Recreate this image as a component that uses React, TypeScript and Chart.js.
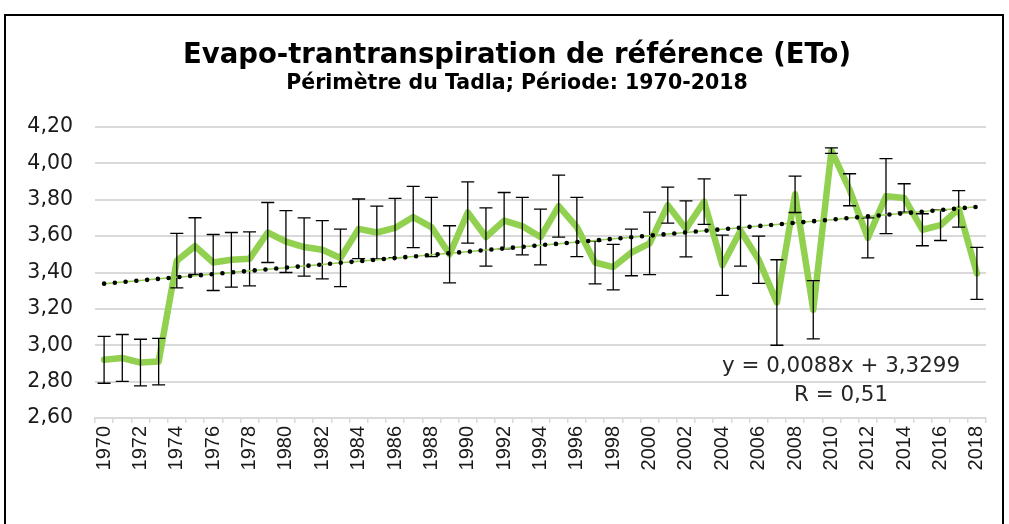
import React, { useEffect, useRef } from "react";
import { Chart, registerables } from "chart.js";

Chart.register(...registerables);

const years = [
  "1970", "1971", "1972", "1973", "1974", "1975", "1976", "1977", "1978", "1979",
  "1980", "1981", "1982", "1983", "1984", "1985", "1986", "1987", "1988", "1989",
  "1990", "1991", "1992", "1993", "1994", "1995", "1996", "1997", "1998", "1999",
  "2000", "2001", "2002", "2003", "2004", "2005", "2006", "2007", "2008", "2009",
  "2010", "2011", "2012", "2013", "2014", "2015", "2016", "2017", "2018",
];

const eto = [
  2.92, 2.93, 2.905, 2.91, 3.465, 3.545, 3.455, 3.47, 3.475, 3.62,
  3.57, 3.54, 3.525, 3.48, 3.64, 3.62, 3.645, 3.705, 3.65, 3.5,
  3.73, 3.595, 3.685, 3.655, 3.595, 3.765, 3.65, 3.455, 3.43, 3.51,
  3.56, 3.77, 3.64, 3.79, 3.44, 3.63, 3.47, 3.235, 3.83, 3.195,
  4.07, 3.855, 3.59, 3.82, 3.81, 3.635, 3.66, 3.75, 3.395,
];

const etoSd = [
  0.129, 0.129, 0.128, 0.128, 0.15, 0.156, 0.154, 0.15, 0.148, 0.165,
  0.17, 0.16, 0.16, 0.158, 0.164, 0.145, 0.163, 0.168, 0.163, 0.157,
  0.168, 0.16, 0.155, 0.158, 0.153, 0.17, 0.163, 0.117, 0.125, 0.128,
  0.172, 0.099, 0.154, 0.125, 0.166, 0.195, 0.13, 0.235, 0.1, 0.16,
  0.015, 0.088, 0.11, 0.206, 0.078, 0.088, 0.084, 0.1, 0.143,
];

const trendSlope = 0.0088;
const trendIntercept = 3.3299;
const trend = years.map((_, i) => trendIntercept + trendSlope * (i + 1));

const yMin = 2.6;
const yMax = 4.2;
const yStep = 0.2;

const titleText = "Evapo-trantranspiration de référence (ETo)";
const subtitleText = "Périmètre du Tadla; Période: 1970-2018";
const equationText = "y = 0,0088x + 3,3299";
const rText = "R = 0,51";

const GREEN = "#92d050";

const errorBarPlugin = {
  id: "errorBars",
  afterDatasetDraw(chart: any, args: any) {
    if (args.index !== 2) return;
    const { ctx } = chart;
    const x = chart.scales.x;
    const y = chart.scales.y;
    ctx.save();
    ctx.strokeStyle = "#000000";
    ctx.lineWidth = 1.3;
    const cap = 6.5;
    eto.forEach((v, i) => {
      const px = x.getPixelForValue(i);
      const top = y.getPixelForValue(v + etoSd[i]);
      const bot = y.getPixelForValue(v - etoSd[i]);
      ctx.beginPath();
      ctx.moveTo(px, top);
      ctx.lineTo(px, bot);
      ctx.moveTo(px - cap, top);
      ctx.lineTo(px + cap, top);
      ctx.moveTo(px - cap, bot);
      ctx.lineTo(px + cap, bot);
      ctx.stroke();
    });
    ctx.restore();
  },
};

const overlayPlugin = {
  id: "overlay",
  beforeDraw(chart: any) {
    const { ctx, width, height } = chart;
    ctx.save();
    ctx.fillStyle = "#ffffff";
    ctx.fillRect(0, 0, width, height);
    ctx.restore();
  },
  afterDraw(chart: any) {
    const { ctx } = chart;
    ctx.save();
    ctx.strokeStyle = "#000000";
    ctx.lineWidth = 2;
    ctx.strokeRect(5, 15, 998, 600);

    ctx.fillStyle = "#000000";
    ctx.textAlign = "center";
    ctx.textBaseline = "alphabetic";
    ctx.font = "bold 27.5px 'DejaVu Sans'";
    ctx.fillText(titleText, 517, 63);
    ctx.font = "bold 20.5px 'DejaVu Sans'";
    ctx.fillText(subtitleText, 517, 89);

    ctx.fillStyle = "#262626";
    ctx.font = "21.4px 'DejaVu Sans'";
    ctx.fillText(equationText, 841, 372);
    ctx.fillText(rText, 841, 400.5);
    ctx.restore();
  },
};

export default function App() {
  const canvasRef = useRef<HTMLCanvasElement | null>(null);

  useEffect(() => {
    if (!canvasRef.current) return;
    const chart = new Chart(canvasRef.current, {
      type: "line",
      data: {
        labels: years,
        datasets: [
          {
            label: "Tendance",
            data: trend,
            borderColor: "#000000",
            borderWidth: 4.6,
            borderDash: [0, 10.8],
            borderCapStyle: "round",
            pointRadius: 0,
            fill: false,
            tension: 0,
          },
          {
            label: "Tendance (fond)",
            data: trend,
            borderColor: GREEN,
            borderWidth: 1.5,
            pointRadius: 0,
            fill: false,
            tension: 0,
          },
          {
            label: "ETo",
            data: eto,
            borderColor: GREEN,
            borderWidth: 6.5,
            borderJoinStyle: "round",
            borderCapStyle: "round",
            pointRadius: 0,
            fill: false,
            tension: 0,
          },
        ],
      },
      options: {
        responsive: false,
        maintainAspectRatio: false,
        animation: false,
        layout: { padding: { top: 127, left: 10, right: 23, bottom: 0 } },
        plugins: {
          legend: { display: false },
          title: { display: false },
          tooltip: { enabled: false },
        },
        scales: {
          x: {
            type: "category",
            offset: true,
            grid: {
              display: true,
              drawOnChartArea: false,
              drawTicks: true,
              tickLength: 5,
              offset: true,
              color: "#d9d9d9",
              lineWidth: 1.5,
            },
            border: { display: true, color: "#d9d9d9", width: 2 },
            ticks: {
              autoSkip: false,
              maxRotation: 90,
              minRotation: 90,
              padding: 3,
              color: "#1a1a1a",
              font: { family: "'Liberation Sans'", size: 20 },
              callback: (_v: any, i: number) => (i % 2 === 0 ? years[i] : ""),
            },
            afterFit: (scale: any) => {
              scale.height = 106;
            },
          },
          y: {
            min: yMin,
            max: yMax,
            grid: { color: "#d9d9d9", lineWidth: 2, drawTicks: false },
            border: { display: false },
            ticks: {
              stepSize: yStep,
              padding: 22,
              color: "#1a1a1a",
              font: { family: "'DejaVu Sans'", size: 20.5 },
              callback: (v: any) => Number(v).toFixed(2).replace(".", ","),
            },
            afterFit: (scale: any) => {
              scale.width = 85;
            },
          },
        },
      },
      plugins: [overlayPlugin, errorBarPlugin],
    });
    return () => chart.destroy();
  }, []);

  return (
    <div style={{ position: "absolute", left: 0, top: 0, width: 1009, height: 524 }}>
      <canvas ref={canvasRef} width={1009} height={524} style={{ display: "block" }} />
    </div>
  );
}
